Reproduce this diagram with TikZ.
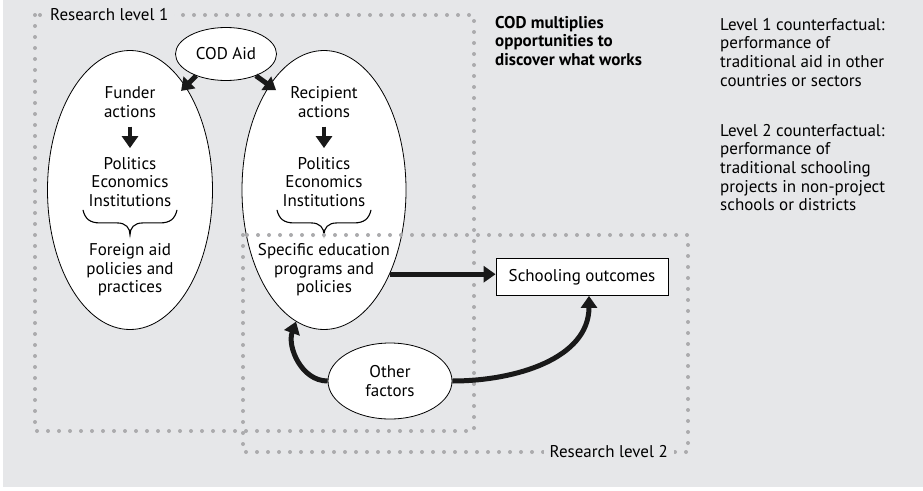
\documentclass[tikz,border=0pt]{standalone}
\usepackage{fontspec}
\setmainfont{PT Sans}
\usepackage{tikz}
\usetikzlibrary{arrows.meta,calc,positioning,shapes.geometric}
\definecolor{panel}{HTML}{E6E7E9}
\definecolor{dotgrey}{HTML}{ABABAD}
% curly brace hanging under a text node
\newcommand{\bracebelow}[1]{%
  \draw[line width=1.1pt] ([shift={(-47,3)}]#1)
    .. controls +(2,9) and +(-10,0) .. ++(17,13) -- ++(17,0)
    .. controls +(9,0) and +(0,-7) .. ++(13,12)
    .. controls +(0,-7) and +(-9,0) .. ++(13,-12) -- ++(17,0)
    .. controls +(10,0) and +(-2,9) .. ++(17,-13);}

\begin{document}
\begin{tikzpicture}[
  x=1pt, y=-1pt,
  font=\fontsize{17}{18.6}\selectfont,
  > = {Triangle[length=12pt,width=16pt]},
  oval/.style = {draw,ellipse,fill=white,line width=0.8pt,inner sep=0pt,align=center},
  words/.style = {align=center,inner sep=0pt},
  note/.style = {align=left,inner sep=0pt,anchor=north west},
  fat/.style = {->,line width=5pt,black!90},
  drop/.style = {->,line width=4pt,black!90,shorten <=9pt,shorten >=9pt},
  dotbox/.style = {dotgrey,line width=4pt,line cap=round,dash pattern=on 0pt off 11pt}
  ]
  \useasboundingbox (0,0) rectangle (923,490);
  \fill[white] (0,0) rectangle (923,490);
  \fill[panel] (3,0) rectangle (923,487);

  % the two actors
  \node[oval,minimum width=165pt,minimum height=279pt] (fund) at (130,190) {};
  \node[oval,minimum width=164pt,minimum height=279pt] (recip) at (324,190) {};

  \node[words] (fact) at (130,102) {Funder\\actions};
  \node[words] (fpol) at (130,182) {Politics\\Economics\\Institutions};
  \node[words] (fpract) at (130,270) {Foreign aid\\policies and\\practices};

  \node[words] (ract) at (324,102) {Recipient\\actions};
  \node[words] (rpol) at (324,182) {Politics\\Economics\\Institutions};
  \node[words] (rprog) at (324,270) {Specific education\\programs and\\policies};

  \draw[drop] (fact) -- (fpol);
  \draw[drop] (ract) -- (rpol);
  \bracebelow{fpol.south}
  \bracebelow{rpol.south}

  % research levels
  \draw[dotbox] (35,15) rectangle (474,431);
  \draw[dotbox] (243,235) rectangle (688,452);
  \node[fill=panel,inner sep=0pt,inner xsep=6pt,minimum height=17pt,anchor=west] (lev1) at (44,15) {Research level 1};
  \node[fill=panel,inner sep=0pt,inner xsep=6pt,minimum height=17pt,anchor=east] (lev2) at (674,452) {Research level 2};

  \node[oval,minimum width=101pt,minimum height=53pt] (cod) at (226,54) {COD Aid};
  \node[oval,minimum width=124pt,minimum height=76pt] (other) at (390,381) {Other\\factors};
  \node[draw,fill=white,line width=0.8pt,minimum width=172pt,minimum height=37pt] (school) at (582,277) {Schooling outcomes};

  \draw[fat] (cod.216) -- ([shift={(-3,7)}]fund.63);
  \draw[fat] (cod.-36) -- ([shift={(6,6)}]recip.117);
  \draw[fat] (recip.-52) -- (recip.-52 -| school.west);
  \draw[fat] (other.west) to[out=180,in=250] (recip.258);
  \draw[fat] (other.east) to[out=0,in=-90] ([xshift=7pt]school.south);

  % notes on the right
  \node[note,font=\fontsize{17}{18.6}\selectfont\bfseries] (claim) at (495,16) {COD multiplies\\opportunities to\\discover what works};
  \node[note] (cf1) at (720,18) {Level 1 counterfactual:\\performance of\\traditional aid in other\\countries or sectors};
  \node[note] (cf2) at (720,124) {Level 2 counterfactual:\\performance of\\traditional schooling\\projects in non-project\\schools or districts};
\end{tikzpicture}
\end{document}
